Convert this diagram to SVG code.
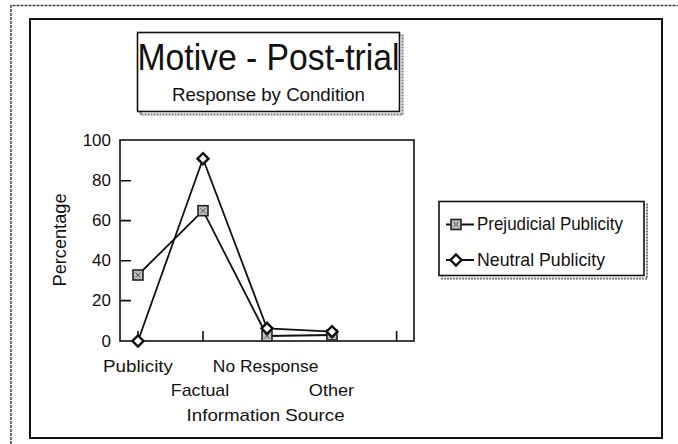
<svg xmlns="http://www.w3.org/2000/svg" width="678" height="444" viewBox="0 0 678 444">
<style>
text{font-family:"Liberation Sans",Arial,sans-serif;fill:#111}
.frame{fill:none;stroke:#111;stroke-width:2}
.shadow{fill:none;stroke:#777;stroke-width:2;stroke-dasharray:2 1}
.axis{fill:none;stroke:#111;stroke-width:1.6}
.series{fill:none;stroke:#111;stroke-width:1.8;stroke-linejoin:round}
.tick{font-size:17px;text-anchor:end}
.cat{font-size:17px;text-anchor:middle}
.leg{font-size:18.5px}
</style>
<defs>
<g id="sq"><rect x="-5" y="-5" width="10" height="10" fill="#bdbdbd" stroke="#222" stroke-width="1.6"/><path d="M-2.5,-2.5L2.5,2.5M2.5,-2.5L-2.5,2.5" stroke="#555" stroke-width="1"/></g>
<g id="dm"><path d="M0,-5.5L5.5,0L0,5.5L-5.5,0Z" fill="#fff" stroke="#111" stroke-width="2.4"/></g>
</defs>
<g id="page">
<path d="M11,444V5.5H678" fill="none" stroke="#444" stroke-width="1.6" stroke-dasharray="3 1"/>
<rect x="30" y="19" width="632" height="419" class="frame"/>
</g>
<g id="title">
<rect x="140.5" y="35.5" width="262" height="79" class="shadow"/>
<rect x="137.5" y="32.5" width="262" height="79" fill="#fff" stroke="#111" stroke-width="1.6"/>
<text x="268.5" y="70" font-size="37" text-anchor="middle" textLength="262" lengthAdjust="spacingAndGlyphs">Motive - Post-trial</text>
<text x="268.5" y="101" font-size="19" text-anchor="middle" textLength="193" lengthAdjust="spacingAndGlyphs">Response by Condition</text>
</g>
<g id="axes">
<rect x="120" y="140" width="294" height="201" class="axis"/>
<path class="axis" d="M120,180.8H131M120,220.6H131M120,260.8H131M120,300.6H131M138,341V331M203,341V331M267,341V331M332,341V331M396.6,341V331"/>
<text class="tick" x="111" y="145.5">100</text>
<text class="tick" x="111" y="186">80</text>
<text class="tick" x="111" y="226">60</text>
<text class="tick" x="111" y="266">40</text>
<text class="tick" x="111" y="306">20</text>
<text class="tick" x="111" y="347">0</text>
<text class="cat" x="138" y="372" textLength="70" lengthAdjust="spacingAndGlyphs">Publicity</text>
<text class="cat" x="265.6" y="372" textLength="105.5" lengthAdjust="spacingAndGlyphs">No Response</text>
<text class="cat" x="200" y="395.5" textLength="58.4" lengthAdjust="spacingAndGlyphs">Factual</text>
<text class="cat" x="331.5" y="395.5" textLength="45.3" lengthAdjust="spacingAndGlyphs">Other</text>
<text class="cat" x="265.6" y="421" textLength="158" lengthAdjust="spacingAndGlyphs">Information Source</text>
<text font-size="18" text-anchor="middle" transform="translate(66,240) rotate(-90)" textLength="93" lengthAdjust="spacingAndGlyphs">Percentage</text>
</g>
<g id="connectors">
<polyline class="series" points="138,275 203,210.7 267,336 332,335"/>
<polyline class="series" points="138,341 203,158.7 267,328.3 332,331.7"/>
</g>
<g id="series-prejudicial">
<use href="#sq" x="138" y="275"/>
<use href="#sq" x="203" y="210.7"/>
<use href="#sq" x="267" y="336"/>
<use href="#sq" x="332" y="335"/>
</g>
<g id="series-neutral">
<use href="#dm" x="138" y="341"/>
<use href="#dm" x="203" y="158.7"/>
<use href="#dm" x="267" y="328.3"/>
<use href="#dm" x="332" y="331.7"/>
</g>
<g id="legend">
<rect x="442" y="204.5" width="205" height="74" class="shadow"/>
<rect x="439" y="201.5" width="205" height="74" fill="#fff" stroke="#111" stroke-width="1.6"/>
<path d="M446,224.5H474M446,260H474" stroke="#111" stroke-width="1.8"/>
<use href="#sq" x="456" y="224.5"/>
<use href="#dm" x="456" y="260"/>
<text class="leg" x="477" y="230" textLength="146" lengthAdjust="spacingAndGlyphs">Prejudicial Publicity</text>
<text class="leg" x="477" y="265.5" textLength="128" lengthAdjust="spacingAndGlyphs">Neutral Publicity</text>
</g>
</svg>
